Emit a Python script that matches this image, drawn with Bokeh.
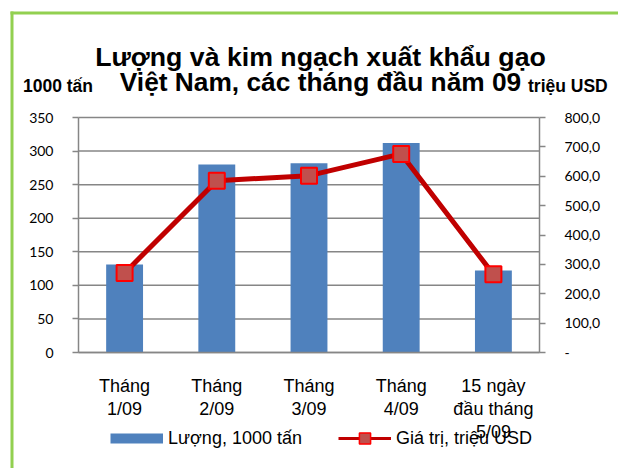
from bokeh.plotting import figure
from bokeh.models import (Range1d, LinearAxis, FixedTicker, Label, Legend,
                          LegendItem)
from bokeh.embed import file_html
from bokeh.resources import INLINE

# ---- data ----
categories = ["Tháng\n1/09", "Tháng\n2/09", "Tháng\n3/09", "Tháng\n4/09",
              "15 ngày\nđầu tháng\n5/09"]
volume = [131, 280, 282, 312, 122]          # 1000 tấn (left axis)
value_usd = [271, 585, 602, 676, 266]       # triệu USD (right axis)
left_ticks = [0, 50, 100, 150, 200, 250, 300, 350]
right_ticks = [0, 100, 200, 300, 400, 500, 600, 700, 800]
right_tick_labels = ["-", "100,0", "200,0", "300,0", "400,0", "500,0",
                     "600,0", "700,0", "800,0"]
title_line1 = "Lượng và kim ngạch xuất khẩu gạo"
title_line2 = "Việt Nam, các tháng đầu năm 09"
left_unit = "1000 tấn"
right_unit = "triệu USD"
series_names = ["Lượng, 1000 tấn", "Giá trị, triệu USD"]

xs = list(range(len(categories)))
n = len(categories)
left_max, right_max = left_ticks[-1], right_ticks[-1]

GRID = "#868686"
BAR = "#4F81BD"
LINE = "#C00000"
MFILL = "#C0504D"
MLINE = "#FF0000"
GREEN = "#92D050"

# ---- canvas / plot-area geometry (pixels) ----
W, H = 618, 468
PL, PR, PT, PB = 78, 539, 117, 352          # plot area edges

cat_px = (PR - PL) / n
ly = (PB - PT) / left_max
ry = (PB - PT) / right_max
x_range = Range1d(-0.5 - PL / cat_px, -0.5 + (W - PL) / cat_px)
y_range = Range1d(-(H - PB) / ly, left_max + PT / ly)

p = figure(width=W, height=H, x_range=x_range, y_range=y_range,
           output_backend="svg", toolbar_location=None,
           min_border=0, min_border_left=0, min_border_right=0,
           min_border_top=0, min_border_bottom=0)
p.extra_y_ranges = {"right": Range1d(-(H - PB) / ry, right_max + PT / ry),
                    "py": Range1d(H, 0)}
p.extra_x_ranges = {"px": Range1d(0, W)}
p.outline_line_color = None
p.background_fill_color = "white"
p.border_fill_color = "white"
p.grid.visible = False

# x axis
xa = p.xaxis[0]
xa.fixed_location = 0
xa.bounds = (-0.5, n - 0.5)
xa.ticker = FixedTicker(ticks=xs)
xa.major_label_overrides = {i: c for i, c in zip(xs, categories)}
xa.major_tick_out = 0
xa.major_tick_in = 0
xa.minor_tick_out = 0
xa.minor_tick_in = 0
xa.axis_line_color = GRID
xa.axis_line_width = 1.5
xa.major_label_text_font = "Liberation Sans"
xa.major_label_text_font_size = "18px"
xa.major_label_text_color = "black"
xa.major_label_text_line_height = 1.15
xa.major_label_standoff = 23

# left axis
ya = p.yaxis[0]
ya.fixed_location = -0.5
ya.bounds = (0, left_max)
ya.ticker = FixedTicker(ticks=left_ticks)
ya.major_tick_out = 6
ya.major_tick_in = 0
ya.minor_tick_out = 0
ya.minor_tick_in = 0
ya.major_tick_line_color = GRID
ya.major_tick_line_width = 1.5
ya.axis_line_color = GRID
ya.axis_line_width = 1.5
ya.major_label_text_font = "Lato"
ya.major_label_text_font_size = "14px"
ya.major_label_text_color = "black"
ya.major_label_standoff = 19

# right axis
ra = LinearAxis(y_range_name="right", fixed_location=n - 0.5,
                bounds=(0, right_max),
                ticker=FixedTicker(ticks=right_ticks),
                major_label_overrides=dict(zip(right_ticks, right_tick_labels)))
ra.major_tick_out = 6
ra.major_tick_in = 0
ra.minor_tick_out = 0
ra.minor_tick_in = 0
ra.major_tick_line_color = GRID
ra.major_tick_line_width = 1.5
ra.axis_line_color = GRID
ra.axis_line_width = 1.5
ra.major_label_text_font = "Lato"
ra.major_label_text_font_size = "14px"
ra.major_label_text_color = "black"
ra.major_label_standoff = 19
p.add_layout(ra, "right")

# horizontal gridlines at the left-axis ticks, across the plot area
p.segment(x0=[-0.5] * len(left_ticks), x1=[n - 0.5] * len(left_ticks),
          y0=left_ticks, y1=left_ticks, line_color=GRID, line_width=1.5)

# bars
p.vbar(x=xs, top=volume, width=0.4, fill_color=BAR, line_color=None)

# line + markers
p.line(xs, value_usd, y_range_name="right", line_color=LINE, line_width=5)
p.scatter(xs, value_usd, y_range_name="right", marker="square", size=16,
          fill_color=MFILL, line_color=MLINE, line_width=2)

# legend-only renderers (a single NaN point: nothing is drawn on the plot)
nan = float("nan")
leg_bar = p.line(x=[nan], y=[nan], line_color=BAR, line_width=10, line_cap="butt")
leg_line = p.line(x=[nan], y=[nan], line_color=LINE, line_width=3)
leg_mark = p.scatter(x=[nan], y=[nan], marker="square", fill_color=MFILL,
                     line_color=MLINE, line_width=1.5)

legend = Legend(items=[LegendItem(label=series_names[0], renderers=[leg_bar], index=0),
                       LegendItem(label=series_names[1], renderers=[leg_line, leg_mark], index=0)],
                orientation="horizontal", location=(110, 16),
                glyph_width=53, glyph_height=28, label_standoff=5, spacing=36,
                padding=0, margin=0, border_line_color=None,
                background_fill_alpha=0,
                label_text_font="Liberation Sans", label_text_font_size="18px",
                label_text_color="black")
p.add_layout(legend, "center")

# green chart border (left and top edges), in page-pixel coordinates
p.quad(left=10, right=13, top=11, bottom=H, fill_color=GREEN, line_color=None,
       x_range_name="px", y_range_name="py")
p.quad(left=10, right=W, top=11, bottom=14, fill_color=GREEN, line_color=None,
       x_range_name="px", y_range_name="py")

# titles / unit labels, in page-pixel coordinates
common = dict(x_range_name="px", y_range_name="py",
              text_font="Liberation Sans", text_font_style="bold",
              text_color="black", text_baseline="alphabetic")
p.add_layout(Label(x=320, y=56.5, text=title_line1, text_align="center",
                   text_font_size="26.7px", **common))
p.add_layout(Label(x=320, y=81, text=title_line2, text_align="center",
                   text_font_size="26.3px", **common))
p.add_layout(Label(x=22.5, y=85, text=left_unit, text_align="left",
                   text_font_size="17.5px", **common))
p.add_layout(Label(x=527.5, y=85, text=right_unit, text_align="left",
                   text_font_size="17.5px", **common))

open("out.html", "w").write(file_html(p, INLINE))
